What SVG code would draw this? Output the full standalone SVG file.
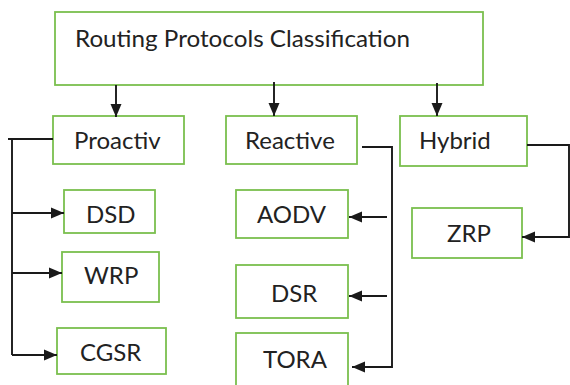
<svg xmlns="http://www.w3.org/2000/svg" width="570" height="385" viewBox="0 0 570 385">
<style>
.box{fill:#fff;stroke:#7ABF4E;stroke-width:1.8}
.t{font-family:Lato,"Open Sans","Liberation Sans",sans-serif;font-size:24px;fill:#222}
.c{fill:none;stroke:#1a1a1a;stroke-width:1.9}
</style>
<defs>
<marker id="ah" markerUnits="userSpaceOnUse" markerWidth="14" markerHeight="14" viewBox="0 0 14 14" refX="13" refY="7" orient="auto">
<path d="M0,1.5 L13,7 L0,12.5 Z" fill="#1a1a1a"/>
</marker>
</defs>
<rect width="570" height="385" fill="#fff"/>
<g id="root"><rect class="box" x="55" y="12" width="428" height="73"/><text class="t" x="75" y="47" textLength="335" lengthAdjust="spacingAndGlyphs">Routing Protocols Classification</text></g>
<g id="proactiv"><rect class="box" x="53" y="116" width="131" height="48"/><text class="t" x="74" y="149">Proactiv</text></g>
<g id="reactive"><rect class="box" x="226" y="116" width="131" height="48"/><text class="t" x="245" y="149">Reactive</text></g>
<g id="hybrid"><rect class="box" x="400" y="116" width="127" height="50"/><text class="t" x="419" y="149">Hybrid</text></g>
<g id="dsd"><rect class="box" x="64" y="190" width="91" height="43"/><text class="t" x="86" y="223">DSD</text></g>
<g id="wrp"><rect class="box" x="62" y="252" width="97" height="50"/><text class="t" x="84" y="284">WRP</text></g>
<g id="cgsr"><rect class="box" x="57" y="328" width="109" height="46"/><text class="t" x="80" y="361">CGSR</text></g>
<g id="aodv"><rect class="box" x="236" y="190" width="112" height="48"/><text class="t" x="257" y="223">AODV</text></g>
<g id="dsr"><rect class="box" x="236" y="265" width="112" height="53"/><text class="t" x="271" y="302">DSR</text></g>
<g id="tora"><rect class="box" x="236" y="333" width="112" height="60"/><text class="t" x="263" y="368">TORA</text></g>
<g id="zrp"><rect class="box" x="412" y="208" width="110" height="50"/><text class="t" x="447" y="242">ZRP</text></g>
<g id="connectors">
<path class="c" d="M116,85 V117" marker-end="url(#ah)"/>
<path class="c" d="M274,82 V116" marker-end="url(#ah)"/>
<path class="c" d="M437,83 V116" marker-end="url(#ah)"/>
<path class="c" d="M53,139 H8"/>
<path class="c" d="M12,139 V355"/>
<path class="c" d="M12,213 H64" marker-end="url(#ah)"/>
<path class="c" d="M12,273 H62" marker-end="url(#ah)"/>
<path class="c" d="M12,355 H57" marker-end="url(#ah)"/>
<path class="c" d="M362,147 H392 V367 H352" marker-end="url(#ah)"/>
<path class="c" d="M387,217 H349" marker-end="url(#ah)"/>
<path class="c" d="M387,296 H349" marker-end="url(#ah)"/>
<path class="c" d="M527,145 H569 V237 H522" marker-end="url(#ah)"/>
</g>
</svg>
